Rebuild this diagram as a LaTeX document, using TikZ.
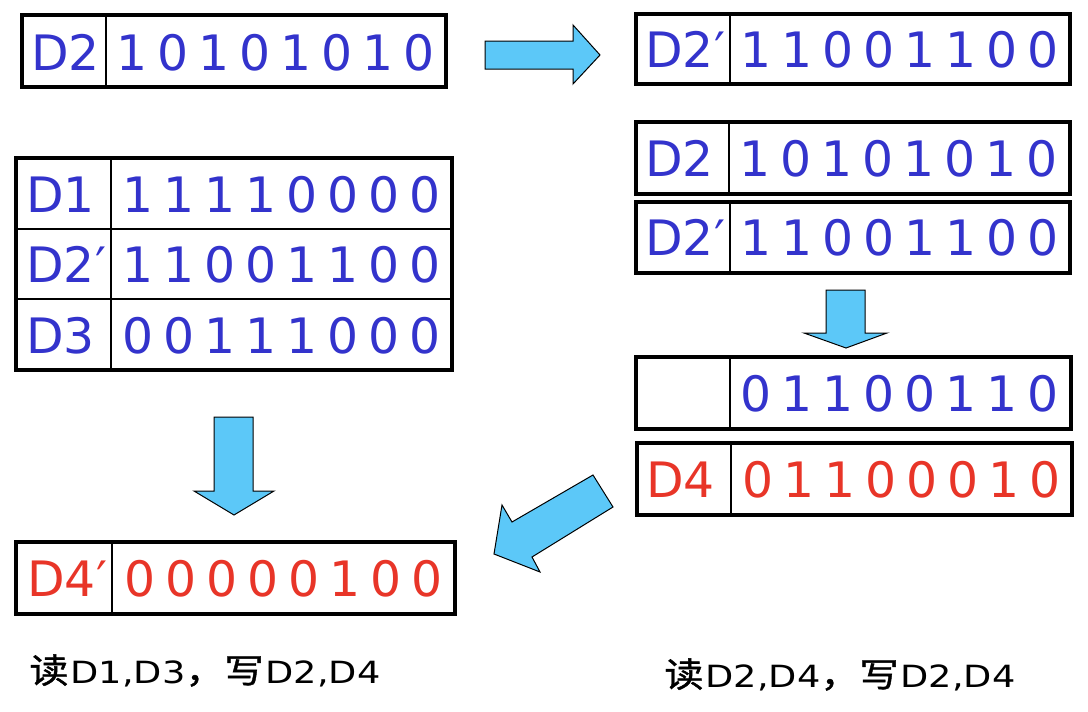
\documentclass[tikz,border=0pt]{standalone}
\usepackage{fontspec}
\newfontfamily\regfont{DejaVu Sans}
\newfontfamily\notefont[FakeStretch=1.2]{DejaVu Sans}
\newfontfamily\cjk[FakeStretch=1.15,FakeBold=1.2]{Noto Sans CJK SC}
\definecolor{bitblue}{RGB}{51,51,204}
\definecolor{bitred}{RGB}{232,53,40}
\definecolor{arrowblue}{RGB}{92,200,248}
\tikzset{
  frame/.style={line width=1.6pt},
  split/.style={line width=0.7pt},
  bit/.style={anchor=base, inner sep=0pt, font=\regfont\fontsize{24.4}{28}\selectfont},
  lab/.style={anchor=base west, inner sep=0pt, font=\regfont\fontsize{24.4}{28}\selectfont},
  fatarrow/.style={fill=arrowblue, draw=black, line width=0.5pt},
  note/.style={anchor=base west, inner sep=0pt, font=\notefont\fontsize{15.3}{18}\selectfont}
}
% register contents: name, label x, bits centre x, baseline, label, bits
\newcommand\regtext[7][bitblue]{%
  \node[lab,text=#1] (#2-lab) at (#3,#5) {#6};
  \foreach \v [count=\i] in {#7}
    \node[bit,text=#1] (#2-\i) at ({#4+(\i-4.5)*41},#5) {\v};}
\newcommand\readmark{{\cjk\fontsize{17}{18}\selectfont 读}\hspace{1pt}}
\newcommand\writemark{{\cjk\fontsize{17}{18}\selectfont ，写}\hspace{1pt}}
\begin{document}
\begin{tikzpicture}[x=0.5pt,y=-0.5pt]
  \useasboundingbox (0,0) rectangle (1088,712);
  % single registers
  \foreach \l/\s/\r/\t/\b in {22/106/446/15/87, 636/730/1070/14/84, 636/729/1070/122/194,
      636/730/1070/202/273, 636/730/1071/357/429, 637/731/1072/443/515, 16/112/455/542/614}{
    \draw[frame] (\l,\t) rectangle (\r,\b);
    \draw[split] (\s,\t) -- (\s,\b);
  }
  % three-row table
  \draw[frame] (16,158) rectangle (452,370);
  \draw[split] (111,158) -- (111,370);
  \draw[split] (16,229) -- (452,229);
  \draw[split] (16,299) -- (452,299);
  \regtext{dtwo}{31}{276}{70}{D2}{1,0,1,0,1,0,1,0}
  \regtext{done}{26}{281.5}{212}{D1}{1,1,1,1,0,0,0,0}
  \regtext{dtwoq}{26}{281.5}{282}{D2′}{1,1,0,0,1,1,0,0}
  \regtext{dthree}{26}{281.5}{353}{D3}{0,0,1,1,1,0,0,0}
  \regtext[bitred]{dfourq}{27}{283.5}{596}{D4′}{0,0,0,0,0,1,0,0}
  \regtext{rtwoq}{645}{900}{67}{D2′}{1,1,0,0,1,1,0,0}
  \regtext{rtwo}{645}{899}{176}{D2}{1,0,1,0,1,0,1,0}
  \regtext{rtwor}{645}{900}{255.5}{D2′}{1,1,0,0,1,1,0,0}
  \regtext{rxor}{645}{900}{411}{}{0,1,1,0,0,1,1,0}
  \regtext[bitred]{rfour}{646}{901.5}{497}{D4}{0,1,1,0,0,0,1,0}
  % arrows
  \draw[fatarrow] (485,41) -- (573,41) -- (573,25) -- (600,55) -- (573,84) -- (573,69) -- (485,69) -- cycle;
  \draw[fatarrow] (826,290) -- (865,290) -- (865,333) -- (887,333) -- (846,348) -- (804,333) -- (826,333) -- cycle;
  \draw[fatarrow] (214,417) -- (253,417) -- (253,491) -- (274,491) -- (234,515) -- (194,491) -- (214,491) -- cycle;
  \draw[fatarrow] (593,475) -- (613,507) -- (532,557) -- (540,572) -- (494,554) -- (502,505) -- (512,522) -- cycle;
  % captions
  \node[note] (leftnote) at (29,683) {\readmark D1,D3\writemark D2,D4};
  \node[note] (rightnote) at (664,687) {\readmark D2,D4\writemark D2,D4};
\end{tikzpicture}
\end{document}
